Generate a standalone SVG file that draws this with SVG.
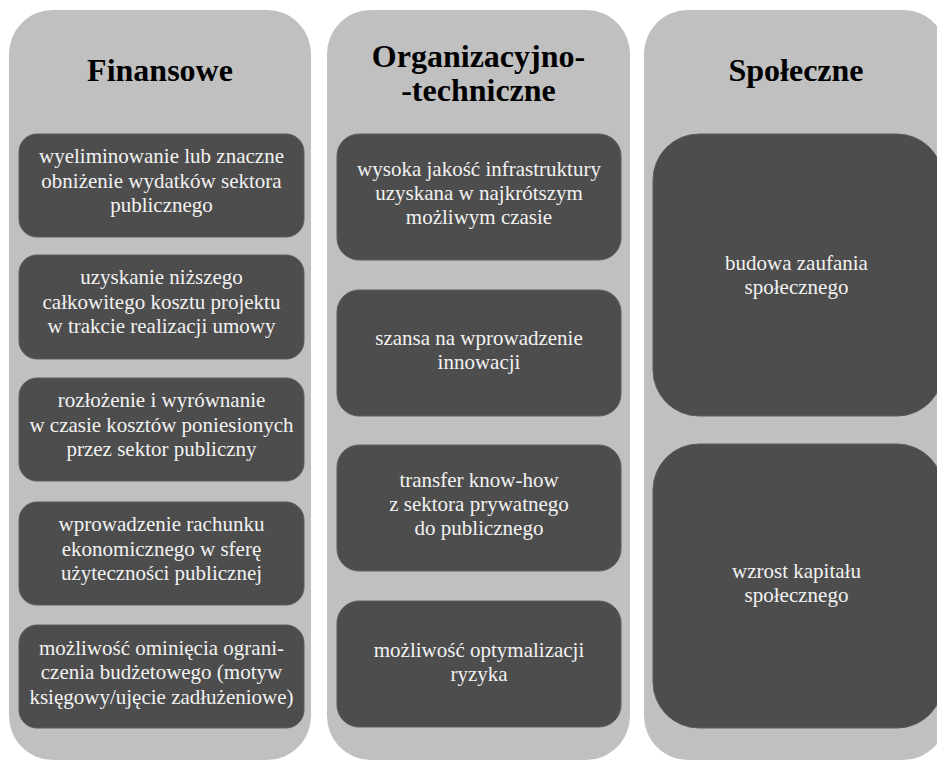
<svg xmlns="http://www.w3.org/2000/svg" width="937" height="761" viewBox="0 0 937 761">
<style>
.col{fill:#c0c0c0}
.box{fill:#4d4d4d;stroke:#5c5c5c;stroke-width:1}
.title{font-family:"Liberation Serif","Times New Roman",serif;font-weight:bold;font-size:32px;fill:#000;text-anchor:middle}
.t{font-family:"Liberation Serif","Times New Roman",serif;font-size:21px;fill:#f2f2f2;text-anchor:middle}
</style>
<rect width="937" height="761" fill="#ffffff"/>
<g id="col-finansowe">
<rect class="col" x="9" y="10" width="302" height="750" rx="44"/>
<text class="title" x="160" y="81">Finansowe</text>
</g>
<g id="col-organizacyjno">
<rect class="col" x="327" y="10" width="303" height="750" rx="44"/>
<text class="title" x="478.5" y="67">Organizacyjno-</text>
<text class="title" x="478.5" y="101">-techniczne</text>
</g>
<g id="col-spoleczne">
<rect class="col" x="644" y="10" width="303" height="750" rx="44"/>
<text class="title" x="796" y="81">Społeczne</text>
</g>
<g id="f1">
<rect class="box" x="19" y="134" width="285" height="103" rx="18"/>
<text class="t" x="161.5" y="163">wyeliminowanie lub znaczne</text>
<text class="t" x="161.5" y="187.5">obniżenie wydatków sektora</text>
<text class="t" x="161.5" y="212">publicznego</text>
</g>
<g id="f2">
<rect class="box" x="19" y="255" width="285" height="104" rx="18"/>
<text class="t" x="161.5" y="284">uzyskanie niższego</text>
<text class="t" x="161.5" y="308.5">całkowitego kosztu projektu</text>
<text class="t" x="161.5" y="333">w trakcie realizacji umowy</text>
</g>
<g id="f3">
<rect class="box" x="19" y="378" width="285" height="103" rx="18"/>
<text class="t" x="161.5" y="407">rozłożenie i wyrównanie</text>
<text class="t" x="161.5" y="431.5">w czasie kosztów poniesionych</text>
<text class="t" x="161.5" y="456">przez sektor publiczny</text>
</g>
<g id="f4">
<rect class="box" x="19" y="502" width="285" height="103" rx="18"/>
<text class="t" x="161.5" y="531">wprowadzenie rachunku</text>
<text class="t" x="161.5" y="555.5">ekonomicznego w sferę</text>
<text class="t" x="161.5" y="580">użyteczności publicznej</text>
</g>
<g id="f5">
<rect class="box" x="19" y="625" width="285" height="103" rx="18"/>
<text class="t" x="161.5" y="654.5">możliwość ominięcia ograni-</text>
<text class="t" x="161.5" y="679">czenia budżetowego (motyw</text>
<text class="t" x="161.5" y="703.5">księgowy/ujęcie zadłużeniowe)</text>
</g>
<g id="o1">
<rect class="box" x="337" y="134" width="284" height="126" rx="22"/>
<text class="t" x="479" y="176">wysoka jakość infrastruktury</text>
<text class="t" x="479" y="200">uzyskana w najkrótszym</text>
<text class="t" x="479" y="224">możliwym czasie</text>
</g>
<g id="o2">
<rect class="box" x="337" y="290" width="284" height="126" rx="22"/>
<text class="t" x="479" y="345">szansa na wprowadzenie</text>
<text class="t" x="479" y="369">innowacji</text>
</g>
<g id="o3">
<rect class="box" x="337" y="445" width="284" height="126" rx="22"/>
<text class="t" x="479" y="487">transfer know-how</text>
<text class="t" x="479" y="511">z sektora prywatnego</text>
<text class="t" x="479" y="535">do publicznego</text>
</g>
<g id="o4">
<rect class="box" x="337" y="601" width="284" height="126" rx="22"/>
<text class="t" x="479" y="657">możliwość optymalizacji</text>
<text class="t" x="479" y="681">ryzyka</text>
</g>
<g id="s1">
<rect class="box" x="653" y="134" width="290" height="282" rx="46"/>
<text class="t" x="796.5" y="270">budowa zaufania</text>
<text class="t" x="796.5" y="294">społecznego</text>
</g>
<g id="s2">
<rect class="box" x="653" y="444" width="290" height="284" rx="46"/>
<text class="t" x="796.5" y="578">wzrost kapitału</text>
<text class="t" x="796.5" y="602">społecznego</text>
</g>
<g id="connectors"></g>
</svg>
